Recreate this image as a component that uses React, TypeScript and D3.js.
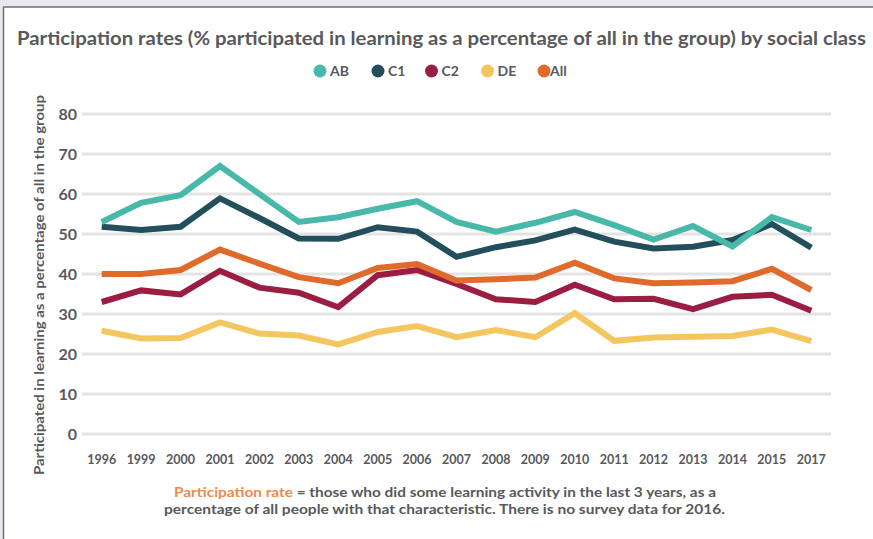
import React from "react";
import * as d3 from "d3";

const years = ["1996","1999","2000","2001","2002","2003","2004","2005","2006","2007","2008","2009","2010","2011","2012","2013","2014","2015","2017"];
const seriesNames = ["AB", "C1", "C2", "DE", "All"];
const colors = ["#48b9a8", "#234e5c", "#9b1e42", "#f4c660", "#e06a2c"];
const abValues = [53, 57.8, 59.7, 67, 60, 53, 54.2, 56.3, 58.2, 53, 50.6, 52.8, 55.5, 52.2, 48.6, 52, 46.9, 54.2, 51];
const c1Values = [51.8, 51, 51.8, 58.9, 54, 48.9, 48.8, 51.7, 50.6, 44.3, 46.7, 48.4, 51.1, 48.1, 46.4, 46.8, 48.5, 52.5, 46.6];
const c2Values = [33, 35.9, 34.9, 40.8, 36.6, 35.3, 31.7, 39.7, 41, 37.5, 33.7, 33, 37.3, 33.7, 33.8, 31.2, 34.3, 34.8, 30.8];
const deValues = [25.8, 23.9, 24, 27.9, 25.1, 24.6, 22.4, 25.5, 27, 24.2, 26, 24.2, 30.2, 23.3, 24.1, 24.3, 24.5, 26.1, 23.2];
const allValues = [40, 40, 41, 46.1, 42.6, 39.2, 37.7, 41.5, 42.5, 38.4, 38.7, 39.1, 42.8, 38.9, 37.7, 37.9, 38.2, 41.3, 36];
const yTicks = [0, 10, 20, 30, 40, 50, 60, 70, 80];
const legendX = [320, 378, 431.5, 487.5, 544];

const TEXT = "#58595b";
const FONT = "Lato, 'Open Sans', sans-serif";

export default function App() {
  const x = d3.scaleBand<string>().domain(years).range([82, 831]);
  const y = d3.scaleLinear().domain([0, 80]).range([434, 114]);
  const allSeries = [abValues, c1Values, c2Values, deValues, allValues];
  const line = d3
    .line<number>()
    .x((_, i) => (x(years[i]) as number) + x.bandwidth() / 2)
    .y((d) => y(d));
  const drawOrder = [3, 2, 4, 1, 0];

  return (
    <svg
      width={873}
      height={539}
      style={{ position: "absolute", left: 0, top: 0, background: "#fff" }}
      fontFamily={FONT}
    >
      <rect x={0} y={0} width={873} height={7} fill="#e8e9ed" />
      <rect x={0} y={0} width={3} height={539} fill="#e8e9ed" />
      <line x1={3} x2={873} y1={7} y2={7} stroke="#6d6e71" strokeWidth={1.5} />
      <line x1={3.5} x2={3.5} y1={7} y2={539} stroke="#6d6e71" strokeWidth={1.5} />

      <text x={17} y={45} fontSize={18} fontWeight={700} fill={TEXT} textLength={849} lengthAdjust="spacingAndGlyphs">
        Participation rates (% participated in learning as a percentage of all in the group) by social class
      </text>

      {seriesNames.map((name, i) => (
        <g key={name}>
          <circle cx={legendX[i]} cy={71} r={6.5} fill={colors[i]} />
          <text x={legendX[i] + (i === 4 ? 6 : 10)} y={75.5} fontSize={14} fontWeight={700} fill={TEXT}>
            {name}
          </text>
        </g>
      ))}

      {yTicks.map((t) => (
        <g key={t}>
          <line x1={82} x2={831} y1={y(t)} y2={y(t)} stroke="#e3e3e3" strokeWidth={3} />
          <text x={77} y={y(t) + 6} textAnchor="end" fontSize={16} fontWeight={700} fill={TEXT}>
            {t}
          </text>
        </g>
      ))}

      {years.map((yr) => (
        <text
          key={yr}
          x={(x(yr) as number) + x.bandwidth() / 2}
          y={464}
          textAnchor="middle"
          fontSize={12.5}
          fontWeight={700}
          fill={TEXT}
        >
          {yr}
        </text>
      ))}

      <text
        transform="translate(44,285) rotate(-90)"
        textAnchor="middle"
        fontSize={13.5}
        fontWeight={700}
        fill={TEXT}
        textLength={380}
        lengthAdjust="spacingAndGlyphs"
      >
        Participated in learning as a percentage of all in the group
      </text>

      {drawOrder.map((i) => (
        <path
          key={seriesNames[i]}
          d={line(allSeries[i]) || ""}
          fill="none"
          stroke={colors[i]}
          strokeWidth={6}
          strokeLinejoin="miter"
        />
      ))}

      <text x={174} y={497} fontSize={14} fontWeight={700} fill={TEXT} textLength={542} lengthAdjust="spacingAndGlyphs">
        <tspan fill="#f08a4b">Participation rate</tspan>
        <tspan> = those who did some learning activity in the last 3 years, as a</tspan>
      </text>
      <text x={164} y={514} fontSize={14} fontWeight={700} fill={TEXT} textLength={561} lengthAdjust="spacingAndGlyphs">
        percentage of all people with that characteristic. There is no survey data for 2016.
      </text>
    </svg>
  );
}
